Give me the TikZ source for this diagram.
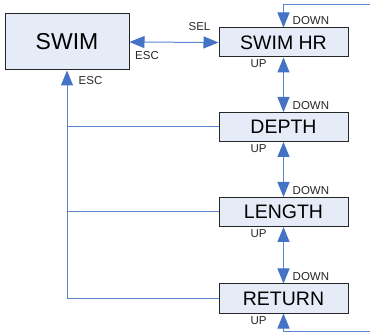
\documentclass[tikz,border=0pt]{standalone}
\usepackage{fontspec}
\setmainfont{Liberation Sans}
\usetikzlibrary{arrows.meta}
\definecolor{arrblue}{HTML}{4472C4}
\definecolor{lineblue}{HTML}{5B85CC}
\definecolor{boxfill}{HTML}{E6ECF7}
\definecolor{boxline}{HTML}{262626}
\begin{document}
\begin{tikzpicture}[x=1pt,y=-1pt,
  box/.style={draw=boxline,line width=1pt,fill=boxfill,inner sep=0pt},
  bigbox/.style={box,minimum width=124pt,minimum height=56pt,font=\fontsize{23}{23}\selectfont},
  menubox/.style={box,minimum width=129pt,minimum height=29pt,font=\fontsize{19.5}{20}\selectfont},
  lbl/.style={inner sep=0pt,font=\fontsize{11.5}{12}\selectfont,text=black!85},
  conn/.style={draw=lineblue,line width=1pt},
  tip/.tip={Triangle[length=15pt,width=12pt,fill=arrblue,color=arrblue]},
  arr/.style={conn,-tip},
  darr/.style={conn,tip-tip}
]
\useasboundingbox (0,0) rectangle (370,334);
\node[bigbox] (swim) at (67,42) {SWIM};
\node[menubox] (swimhr) at (283.5,42.5) {SWIM HR};
\node[menubox] (depth) at (283.5,127) {DEPTH};
\node[menubox] (length) at (283.5,212) {LENGTH};
\node[menubox] (return) at (283.5,298.5) {RETURN};
\coordinate (tr) at (370,5);
\coordinate (br) at (370,331);
% connectors
\draw[darr] (swim.east) -- (swimhr.west);
\draw[darr] (swimhr.south) -- (depth.north);
\draw[darr] (depth.south) -- (length.north);
\draw[darr] (length.south) -- (return.north);
\draw[arr] (tr) -| (swimhr.north);
\draw[arr] (br) -| (return.south);
\draw[arr] (return.west) -| (swim.south);
\draw[conn] (depth.west) -- (depth.west -| swim.south);
\draw[conn] (length.west) -- (length.west -| swim.south);
% labels
\node[lbl] (sel) at (199.5,27) {SEL};
\node[lbl] (esc1) at (147,56) {ESC};
\node[lbl,anchor=west] (esc2) at (78.5,81) {ESC};
\node[lbl,anchor=west] (d1) at (292.5,21) {DOWN};
\node[lbl] (u1) at (258.5,64) {UP};
\node[lbl,anchor=west] (d2) at (292.5,105.5) {DOWN};
\node[lbl] (u2) at (258.5,149) {UP};
\node[lbl,anchor=west] (d3) at (292.5,190.5) {DOWN};
\node[lbl] (u3) at (258.5,234) {UP};
\node[lbl,anchor=west] (d4) at (292.5,277) {DOWN};
\node[lbl] (u4) at (258.5,321) {UP};
\end{tikzpicture}
\end{document}
